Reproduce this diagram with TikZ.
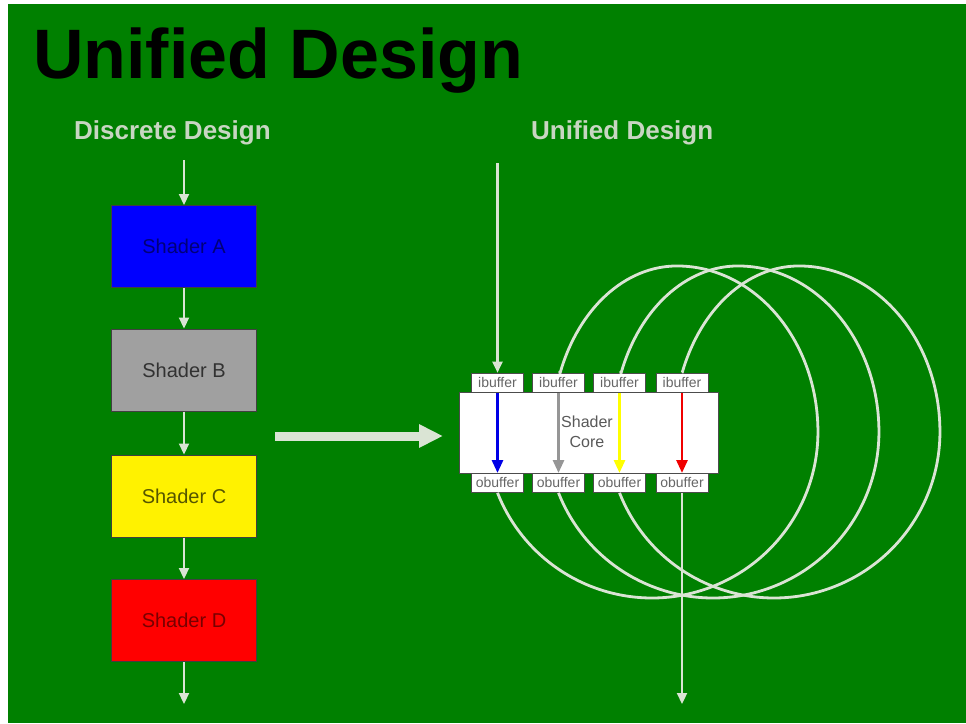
\documentclass[tikz,border=0pt]{standalone}
\usepackage{fontspec}
\setmainfont{Liberation Sans}
\usetikzlibrary{arrows.meta,positioning}

\definecolor{slidegreen}{RGB}{0,128,0}
\definecolor{pale}{RGB}{218,228,212}
\definecolor{subtitle}{RGB}{200,214,194}
\definecolor{shaderB}{RGB}{160,160,160}
\definecolor{textA}{RGB}{0,0,120}
\definecolor{textB}{RGB}{50,50,50}
\definecolor{textC}{RGB}{85,85,0}
\definecolor{textD}{RGB}{120,0,0}
\definecolor{coreblue}{RGB}{0,0,230}
\definecolor{coregray}{RGB}{150,150,150}
\definecolor{coreyellow}{RGB}{255,255,0}
\definecolor{corered}{RGB}{240,0,0}

\begin{document}
\begin{tikzpicture}[x=1pt, y=-1pt,
    shaderbox/.style={draw=black!75, line width=1pt, minimum width=145pt, minimum height=82pt, inner sep=0pt, font=\fontsize{20}{24}\selectfont},
    bufbox/.style={draw=black!70, fill=white, line width=0.8pt, minimum width=52pt, minimum height=19pt, inner sep=0pt, text=black!60, font=\fontsize{14}{15}\selectfont},
    flow/.style={draw=pale, line width=2.2pt, -{Triangle[width=10pt,length=11pt]}},
    coreflow/.style={line width=2.8pt, -{Triangle[width=11pt,length=13pt]}},
    feedback/.style={draw=pale, line width=2.8pt}]
    \useasboundingbox (0,0) rectangle (966,723);
    \fill[white] (0,0) rectangle (966,723);
    \fill[slidegreen] (8,4) rectangle (966,723);

    % headings
    \node[anchor=base west, inner sep=0pt, font=\fontsize{70}{80}\selectfont\bfseries] (title) at (33,78) {Unified Design};
    \node[anchor=base west, inner sep=0pt, text=subtitle, font=\fontsize{26}{30}\selectfont\bfseries] (discrete) at (74,139) {Discrete Design};
    \node[anchor=base west, inner sep=0pt, text=subtitle, font=\fontsize{26}{30}\selectfont\bfseries] (unified) at (531,139) {Unified Design};

    % discrete pipeline
    \foreach \n/\y/\fc/\tc in {A/246.5/blue/textA, B/370/shaderB/textB, C/496/yellow/textC, D/620.5/red/textD} {
        \node[shaderbox, fill=\fc, text=\tc] (shader\n) at (184,\y) {Shader \n};
    }
    \coordinate (discin) at (184,160);
    \coordinate (discout) at (184,704);
    \draw[flow] (discin) -- (shaderA);
    \foreach \a/\b in {A/B, B/C, C/D} {
        \draw[flow] (shader\a) -- (shader\b);
    }
    \draw[flow] (shaderD) -- (discout);

    \coordinate (bigfrom) at (275,436);
    \coordinate (bigto) at (443,436);
    \draw[pale, line width=9pt, -{Triangle[width=22pt,length=24pt]}] (bigfrom) -- (bigto);

    % unified core
    \node[draw=black!70, fill=white, line width=0.8pt, minimum width=259pt, minimum height=81pt] (core) at (588.5,432.5) {};
    \node[text=black!65, align=center, font=\fontsize{16}{20}\selectfont] (corelabel) at (587,432) {Shader\\Core};
    \foreach \i/\x in {1/497.5, 2/558.5, 3/619.5, 4/682} {
        \node[bufbox, anchor=south] (ib\i) at (\x,392.5) {ibuffer};
        \node[bufbox, anchor=north] (ob\i) at (\x,473) {obuffer};
    }
    \foreach \i/\c in {1/coreblue, 2/coregray, 3/coreyellow, 4/corered} {
        \draw[coreflow, draw=\c] (ib\i) -- (ob\i);
    }

    % feedback loops
    \foreach \i/\j in {1/2, 2/3, 3/4} {
        \draw[feedback] (ob\i.south) arc[start angle=158.5, end angle=0, radius=166]
            arc[start angle=0, end angle=-90, x radius=141, y radius=166]
            arc[start angle=-90, end angle=-159, x radius=125, y radius=166] -- (ib\j.north);
    }

    \coordinate (uniin) at (497.5,163);
    \coordinate (uniout) at (682,704);
    \draw[flow] (uniin) -- (ib1);
    \draw[flow] (ob4) -- (uniout);
\end{tikzpicture}
\end{document}
